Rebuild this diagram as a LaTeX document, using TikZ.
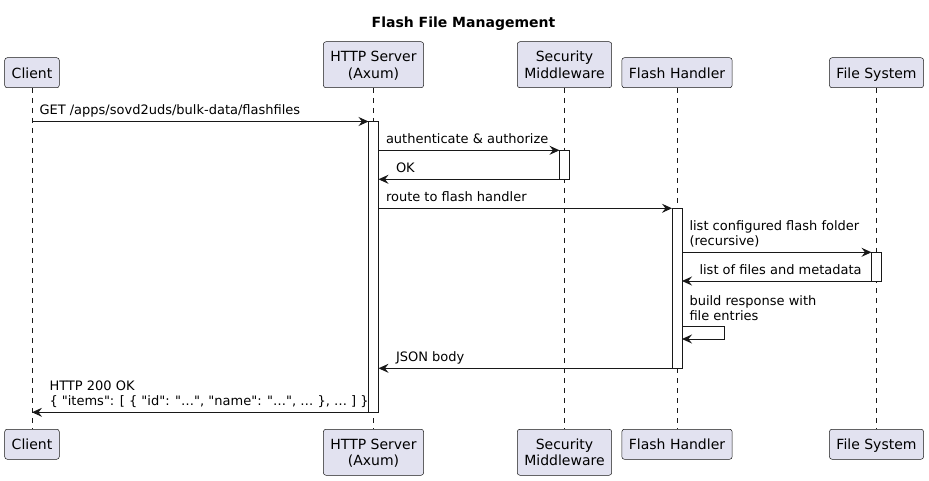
\documentclass[tikz,border=0pt]{standalone}
\usepackage{fontspec}
\setmainfont{DejaVu Sans}
\usetikzlibrary{arrows.meta}
\definecolor{partfill}{HTML}{E2E2F0}
\definecolor{umlline}{HTML}{181818}
\newcommand{\dq}{\textquotedbl}
\begin{document}
\begin{tikzpicture}[x=1pt,y=-1pt,
	part/.style={draw=umlline,line width=0.5pt,fill=partfill,rounded corners=2.5pt,font=\fontsize{14}{16.5}\selectfont,align=center,inner xsep=7pt,inner ysep=0pt,minimum height=30pt,text depth=0pt},
	lifeline/.style={draw=umlline,line width=0.5pt,dash pattern=on 5pt off 5pt},
	actbar/.style={draw=umlline,line width=1pt,fill=white,minimum width=10pt,inner sep=0pt,outer sep=0pt,anchor=north},
	msg/.style={color=umlline,line width=1pt,-{Stealth[length=10pt,width=9pt,inset=3.5pt]}},
	lbl/.style={black,font=\fontsize{13}{15}\selectfont,align=left,inner sep=0pt,anchor=south west,execute at end node=\strut},
	fwd/.style={lbl,pos=0,xshift=7pt,yshift=1.5pt},
	back/.style={lbl,pos=1,xshift=17pt,yshift=1.5pt}]
	\useasboundingbox (0,0) rectangle (929,481);
	\node[font=\bfseries\fontsize{14}{16}\selectfont,anchor=base] (title) at (463.5,27.3) {Flash File Management};
	\node[part,anchor=south] (cli_t) at (32,88) {Client};
	\node[part,anchor=south,minimum height=46pt] (srv_t) at (373.5,88) {HTTP Server\\(Axum)};
	\node[part,anchor=south,minimum height=46pt] (sec_t) at (564.5,88) {Security\\Middleware};
	\node[part,anchor=south] (fh_t) at (677,88) {Flash Handler};
	\node[part,anchor=south] (fs_t) at (876.5,88) {File System};
	\node[part,anchor=north] (cli_b) at (32,429) {Client};
	\node[part,anchor=north,minimum height=46pt] (srv_b) at (373.5,429) {HTTP Server\\(Axum)};
	\node[part,anchor=north,minimum height=46pt] (sec_b) at (564.5,429) {Security\\Middleware};
	\node[part,anchor=north] (fh_b) at (677,429) {Flash Handler};
	\node[part,anchor=north] (fs_b) at (876.5,429) {File System};
	\path[lifeline]
	 (cli_t) edge (cli_b)
	 (srv_t) edge (srv_b)
	 (sec_t) edge (sec_b)
	 (fh_t) edge (fh_b)
	 (fs_t) edge (fs_b);
	\coordinate (m_1) at (0,121.5);
	\coordinate (m_2) at (0,150.3);
	\coordinate (m_3) at (0,179.3);
	\coordinate (m_4) at (0,208.3);
	\coordinate (m_5) at (0,252.3);
	\coordinate (m_6) at (0,281);
	\coordinate (m_7) at (0,326.7);
	\coordinate (m_8) at (0,339);
	\coordinate (m_9) at (0,368.3);
	\coordinate (m_10) at (0,412.3);
	\node[actbar,minimum height=290.8pt] (act_srv) at (srv_t |- m_1) {};
	\node[actbar,minimum height=29pt] (act_sec) at (sec_t |- m_2) {};
	\node[actbar,minimum height=160pt] (act_fh) at (fh_t |- m_4) {};
	\node[actbar,minimum height=28.7pt] (act_fs) at (fs_t |- m_5) {};
	\path[msg]
	 (cli_t |- m_1) edge node[fwd] {GET /apps/sovd2uds/bulk-data/flashfiles} (act_srv.west |- m_1)
	 (act_srv.east |- m_2) edge node[fwd] {authenticate \& authorize} (act_sec.west |- m_2)
	 (act_sec.west |- m_3) edge node[back] {OK} (act_srv.east |- m_3)
	 (act_srv.east |- m_4) edge node[fwd] {route to flash handler} (act_fh.west |- m_4)
	 (act_fh.east |- m_5) edge node[fwd] {list configured flash folder\\(recursive)} (act_fs.west |- m_5)
	 (act_fs.west |- m_6) edge node[back] {list of files and metadata} (act_fh.east |- m_6)
	 (act_fh.west |- m_9) edge node[back] {JSON body} (act_srv.east |- m_9)
	 (act_srv.west |- m_10) edge node[back] {HTTP 200 OK\\\{ \dq items\dq: [ \{ \dq id\dq: \dq…\dq, \dq name\dq: \dq…\dq, … \}, … ] \}} (cli_t |- m_10);
	\draw[msg] (act_fh.east |- m_7) node[lbl,xshift=7pt,yshift=1.5pt] {build response with\\file entries} -- ++(42,0) |- (act_fh.east |- m_8);
\end{tikzpicture}
\end{document}
